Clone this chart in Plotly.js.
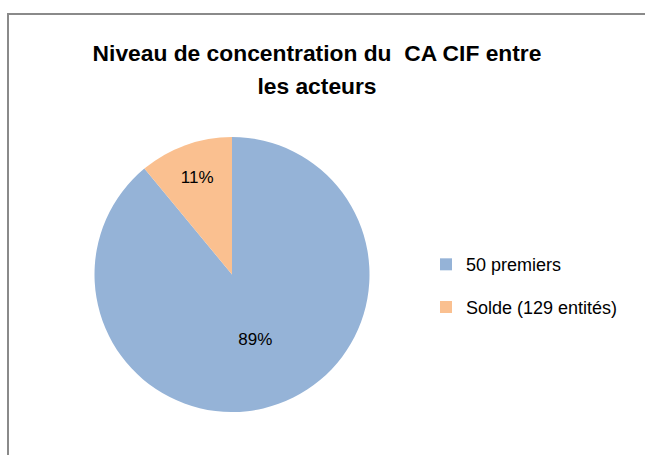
<!DOCTYPE html>
<html>
<head>
<meta charset="utf-8">
<script src="https://cdn.plot.ly/plotly-3.0.1.min.js"></script>
<style>
  html, body { margin: 0; padding: 0; background: #fff; }
  #wrap { position: relative; width: 645px; height: 455px; overflow: hidden; }
  #chart { width: 645px; height: 455px; }
  #frame { position: absolute; left: 7px; top: 13px; width: 700px; height: 500px;
           border-left: 2px solid #8a8a8a; border-top: 2px solid #8a8a8a; pointer-events: none; }
</style>
</head>
<body>
<div id="wrap">
  <div id="chart"></div>
  <div id="frame"></div>
</div>
<script>
const categories = ["50 premiers", "Solde (129 entités)"];
const shares = [89, 11];
const sliceColors = ["#95B3D7", "#FAC090"];
const titleLines = ["Niveau de concentration du&nbsp; CA CIF entre", "les acteurs"];

const legendLabels = categories.map(c => '<span style="font-size:18px;baseline-shift:5px">' + c + '</span>');
const chartTitle = titleLines.map(t => '<span style="font-size:22.8px">' + t + '</span>').join("<br>");

const W = 645, H = 455;
const cx = 232, cy = 274.5, r = 137.5;

const trace = {
  type: "pie",
  labels: legendLabels,
  values: shares,
  sort: false,
  direction: "clockwise",
  rotation: 0,
  marker: { colors: sliceColors, line: { width: 0 } },
  textinfo: "percent",
  textposition: "inside",
  insidetextorientation: "auto",
  textfont: { family: "Liberation Sans, Arial, sans-serif", size: 17, color: "#000" },
  hoverinfo: "none",
  domain: { x: [(cx - r) / W, (cx + r) / W], y: [(H - cy - r) / H, (H - cy + r) / H] }
};

const layout = {
  width: W, height: H,
  margin: { l: 0, r: 0, t: 0, b: 0 },
  paper_bgcolor: "#fff",
  showlegend: true,
  title: {
    text: chartTitle,
    font: { family: "Liberation Sans, Arial, sans-serif", size: 25.4, color: "#000", weight: "bold" },
    x: 317 / W, xanchor: "center", xref: "container",
    y: 1 - 61 / H, yanchor: "top", yref: "container"
  },
  legend: {
    x: 426 / W, xanchor: "left",
    y: 1 - 238 / H, yanchor: "top",
    font: { family: "Liberation Sans, Arial, sans-serif", size: 30.5, color: "#000" },
    itemwidth: 30,
    bgcolor: "rgba(0,0,0,0)"
  }
};

Plotly.newPlot("chart", [trace], layout, { staticPlot: true });
</script>
</body>
</html>
